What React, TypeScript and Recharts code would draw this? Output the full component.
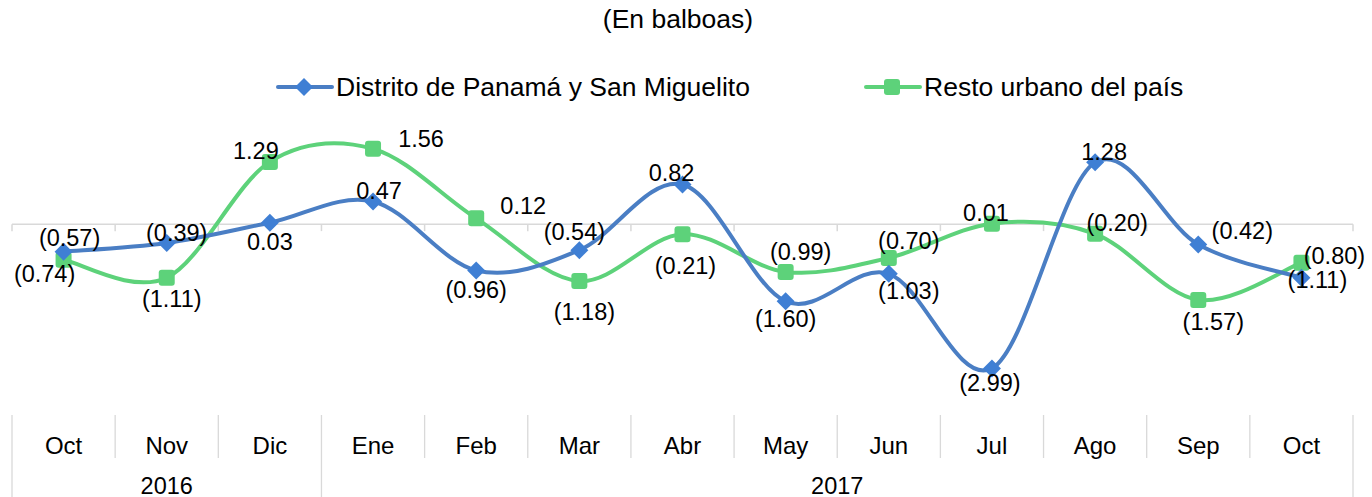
import React from 'react';
import { LineChart, Line, XAxis, YAxis, ReferenceLine } from 'recharts';

const months = ['Oct', 'Nov', 'Dic', 'Ene', 'Feb', 'Mar', 'Abr', 'May', 'Jun', 'Jul', 'Ago', 'Sep', 'Oct'];
const years = [
  { label: '2016', start: 0, count: 3 },
  { label: '2017', start: 3, count: 10 },
];
const panama = [-0.57, -0.39, 0.03, 0.47, -0.96, -0.54, 0.82, -1.6, -1.03, -2.99, 1.28, -0.42, -1.11];
const resto = [-0.74, -1.11, 1.29, 1.56, 0.12, -1.18, -0.21, -0.99, -0.7, 0.01, -0.2, -1.57, -0.8];

// label offsets from the marker (dx, dy), placed like the original
const panamaLabelOffset = [
  [6, -14], [10, -10], [0, 19], [6, -10], [0, 20], [-5, -18], [-11, -12],
  [0, 18], [20, 17], [-2, 15], [9, -10], [44, -13], [16, 2],
];
const restoLabelOffset = [
  [-19, 14], [5, 21], [-14, -11], [48, -10], [47, -12], [5, 31], [3, 32],
  [15, -20], [20, -17], [-6, -11], [22, -11], [15, 22], [33, -7],
];

const BLUE = '#4A7EC4';
const BLUE_MARK = '#3F7FD4';
const GREEN = '#5DD27A';
const FONT = '"Liberation Sans", Arial, sans-serif';

const W = 1372;
const H = 497;
const MARGIN = { top: 103.5, right: 19, left: 12, bottom: 0 };
const BAND = (W - MARGIN.left - MARGIN.right) / months.length;

const data = months.map((m, i) => ({ month: m, idx: i, panama: panama[i], resto: resto[i] }));

// Excel-style smoothing (Catmull-Rom through the points)
function excelCurve(context: any) {
  let pts: number[][] = [];
  return {
    areaStart() {},
    areaEnd() {},
    lineStart() {
      pts = [];
    },
    point(x: number, y: number) {
      pts.push([+x, +y]);
    },
    lineEnd() {
      const n = pts.length;
      if (!n) return;
      context.moveTo(pts[0][0], pts[0][1]);
      for (let i = 0; i < n - 1; i++) {
        const p0 = pts[i - 1] || pts[i];
        const p1 = pts[i];
        const p2 = pts[i + 1];
        const p3 = pts[i + 2] || p2;
        context.bezierCurveTo(
          p1[0] + (p2[0] - p0[0]) / 6,
          p1[1] + (p2[1] - p0[1]) / 6,
          p2[0] - (p3[0] - p1[0]) / 6,
          p2[1] - (p3[1] - p1[1]) / 6,
          p2[0],
          p2[1],
        );
      }
    },
  };
}

const fmt = (v: number) => (v < 0 ? `(${Math.abs(v).toFixed(2)})` : v.toFixed(2));

const Diamond = (p: any) => {
  const { cx, cy, index } = p;
  const r = 9;
  return (
    <path
      key={`d-${index}`}
      d={`M${cx},${cy - r}L${cx + r},${cy}L${cx},${cy + r}L${cx - r},${cy}Z`}
      fill={BLUE_MARK}
    />
  );
};

const Square = (p: any) => {
  const { cx, cy, index } = p;
  return <rect key={`s-${index}`} x={cx - 8} y={cy - 8} width={16} height={16} rx={3} fill={GREEN} />;
};

const makeLabel = (offsets: number[][]) => (p: any) => {
  const { cx, cy, index, value } = p;
  const [dx, dy] = offsets[index] || [0, 0];
  return (
    <text
      key={`l-${index}`}
      x={cx + dx}
      y={cy + dy}
      textAnchor="middle"
      dominantBaseline="central"
      fontSize={23.5}
      fontFamily={FONT}
      fill="#000"
    >
      {fmt(value)}
    </text>
  );
};

const MonthTick = (props: any) => {
  const { x, y, payload, index } = props;
  const left = x - BAND / 2;
  const year = years.find(g => g.start === index);
  const isLast = index === months.length - 1;
  return (
    <g>
      <line x1={left} x2={left} y1={y + 22} y2={year ? y + 104 : y + 65} stroke="#d9d9d9" strokeWidth={1.3} />
      {isLast && <line x1={x + BAND / 2} x2={x + BAND / 2} y1={y + 22} y2={y + 104} stroke="#d9d9d9" strokeWidth={1.3} />}
      <text x={x} y={y + 52} textAnchor="middle" dominantBaseline="central" fontSize={24} fontFamily={FONT} fill="#000">
        {payload.value}
      </text>
      {year && (
        <text
          x={left + (year.count * BAND) / 2}
          y={y + 93}
          textAnchor="middle"
          dominantBaseline="central"
          fontSize={23.5}
          fontFamily={FONT}
          fill="#000"
        >
          {year.label}
        </text>
      )}
    </g>
  );
};

const ZeroLine = (p: any) => {
  const { x1, y1, x2 } = p;
  const step = (x2 - x1) / months.length;
  return (
    <g>
      <line x1={x1} x2={x2} y1={y1} y2={y1} stroke="#d9d9d9" strokeWidth={1.5} />
      {months.concat(['']).map((_, i) => (
        <line key={i} x1={x1 + i * step} x2={x1 + i * step} y1={y1} y2={y1 + 7} stroke="#d9d9d9" strokeWidth={1.5} />
      ))}
    </g>
  );
};

const LegendItem = ({ left, color, square, label }: any) => (
  <div style={{ position: 'absolute', left, top: 72, height: 30, display: 'flex', alignItems: 'center' }}>
    <svg width={58} height={30}>
      <line x1={2} x2={56} y1={15} y2={15} stroke={color} strokeWidth={4} strokeLinecap="round" />
      {square ? (
        <rect x={20} y={7} width={16} height={16} rx={3} fill={color} />
      ) : (
        <path d="M28,6L37,15L28,24L19,15Z" fill={BLUE_MARK} />
      )}
    </svg>
    <span style={{ fontFamily: FONT, fontSize: 26.5, color: '#000', marginLeft: 2, whiteSpace: 'nowrap' }}>{label}</span>
  </div>
);

export default function App() {
  return (
    <div style={{ position: 'absolute', left: 0, top: 0, width: W, height: H, background: '#fff' }}>
      <div
        style={{
          position: 'absolute',
          top: 4,
          left: 0,
          width: W - 16,
          textAlign: 'center',
          fontFamily: FONT,
          fontSize: 26.5,
          color: '#000',
        }}
      >
        (En balboas)
      </div>
      <LegendItem left={276} color={BLUE} label="Distrito de Panamá y San Miguelito" />
      <LegendItem left={864} color={GREEN} square label="Resto urbano del país" />
      <LineChart width={W} height={H} data={data} margin={MARGIN}>
        <XAxis
          dataKey="month"
          interval={0}
          axisLine={false}
          tickLine={false}
          tickSize={0}
          tickMargin={0}
          height={104}
          padding={{ left: BAND / 2, right: BAND / 2 }}
          tick={<MonthTick />}
        />
        <YAxis hide domain={[-3.5, 2.5]} />
        <ReferenceLine y={0} shape={ZeroLine} />
        <Line
          dataKey="resto"
          type={excelCurve as any}
          stroke={GREEN}
          strokeWidth={4}
          dot={Square}
          activeDot={false}
          isAnimationActive={false}
        />
        <Line
          dataKey="panama"
          type={excelCurve as any}
          stroke={BLUE}
          strokeWidth={4}
          dot={Diamond}
          activeDot={false}
          isAnimationActive={false}
        />
        <Line
          dataKey="resto"
          stroke="none"
          dot={makeLabel(restoLabelOffset)}
          activeDot={false}
          legendType="none"
          isAnimationActive={false}
        />
        <Line
          dataKey="panama"
          stroke="none"
          dot={makeLabel(panamaLabelOffset)}
          activeDot={false}
          legendType="none"
          isAnimationActive={false}
        />
      </LineChart>
    </div>
  );
}
